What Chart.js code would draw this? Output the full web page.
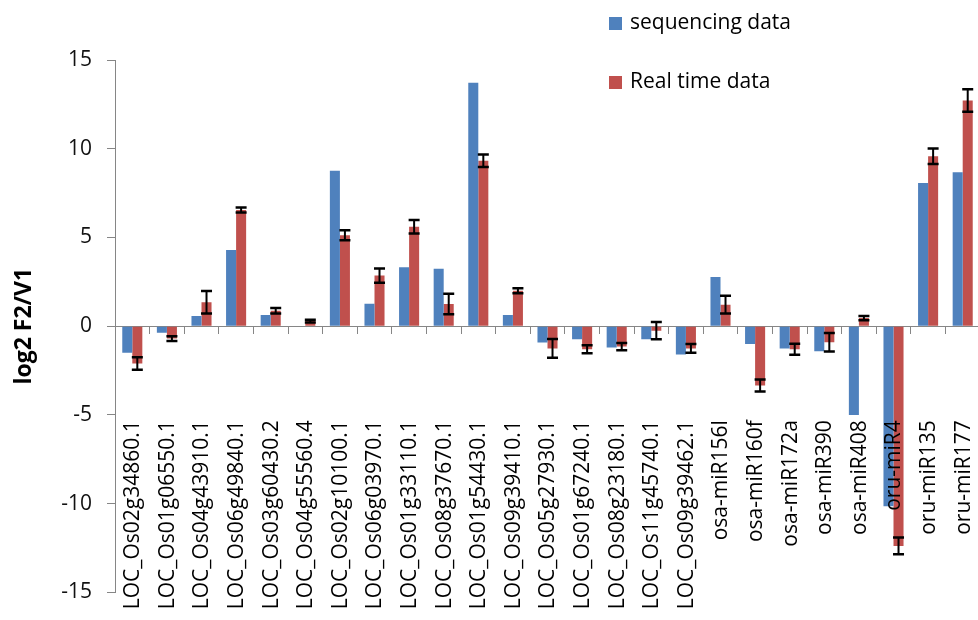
<!DOCTYPE html>
<html>
<head>
<meta charset="utf-8">
<script src="https://cdn.jsdelivr.net/npm/chart.js@4.4.0/dist/chart.umd.min.js"></script>
<style>
  html, body { margin: 0; padding: 0; background: #fff; overflow: hidden; }
  #wrap { position: relative; width: 980px; height: 620px; }
</style>
</head>
<body>
<div id="wrap"><canvas id="chart" width="980" height="620"></canvas></div>
<script>
// ============ DATA ============

const categories = [
  'LOC_Os02g34860.1', 'LOC_Os01g06550.1', 'LOC_Os04g43910.1', 'LOC_Os06g49840.1',
  'LOC_Os03g60430.2', 'LOC_Os04g55560.4', 'LOC_Os02g10100.1', 'LOC_Os06g03970.1',
  'LOC_Os01g33110.1', 'LOC_Os08g37670.1', 'LOC_Os01g54430.1', 'LOC_Os09g39410.1',
  'LOC_Os05g27930.1', 'LOC_Os01g67240.1', 'LOC_Os08g23180.1', 'LOC_Os11g45740.1',
  'LOC_Os09g39462.1', 'osa-miR156l', 'osa-miR160f', 'osa-miR172a',
  'osa-miR390', 'osa-miR408', 'oru-miR4', 'oru-miR135', 'oru-miR177'
];

const sequencingData = [
  -1.5, -0.37, 0.58, 4.3, 0.63, 0, 8.76, 1.26,
  3.32, 3.24, 13.72, 0.63, -0.92, -0.73, -1.2, -0.73,
  -1.6, 2.77, -1.01, -1.26, -1.41, -5.0, -10.14, 8.07, 8.67
];

const realTimeData = [
  -2.1, -0.7, 1.35, 6.55, 0.87, 0.29, 5.12, 2.85,
  5.6, 1.25, 9.32, 2.0, -1.25, -1.3, -1.15, -0.25,
  -1.25, 1.21, -3.34, -1.3, -0.9, 0.46, -12.38, 9.58, 12.72
];

const realTimeError = [
  0.35, 0.13, 0.63, 0.14, 0.16, 0.08, 0.28, 0.4,
  0.38, 0.58, 0.35, 0.14, 0.53, 0.22, 0.2, 0.49,
  0.25, 0.5, 0.34, 0.31, 0.52, 0.12, 0.47, 0.44, 0.63
];

const seriesNames = ['sequencing data', 'Real time data'];
const seriesColors = ['#4F81BD', '#C0504D'];

const yMin = -15;
const yMax = 15;
const yStep = 5;

const FONT = '"Open Sans", "DejaVu Sans", sans-serif';
const AXIS_GREY = '#868686';

// ============ PLUGINS ============

// error bars on the real time series
const errorBarPlugin = {
  id: 'errorBars',
  afterDatasetsDraw(chart) {
    const meta = chart.getDatasetMeta(1);
    const yScale = chart.scales.y;
    const ctx = chart.ctx;
    ctx.save();
    ctx.strokeStyle = '#000';
    meta.data.forEach((bar, i) => {
      const v = realTimeData[i];
      const e = realTimeError[i];
      const yHi = yScale.getPixelForValue(v + e);
      const yLo = yScale.getPixelForValue(v - e);
      ctx.lineWidth = 2;
      ctx.beginPath();
      ctx.moveTo(bar.x, yHi);
      ctx.lineTo(bar.x, yLo);
      ctx.stroke();
      ctx.lineWidth = 2.5;
      ctx.beginPath();
      ctx.moveTo(bar.x - 5.5, yHi);
      ctx.lineTo(bar.x + 5.5, yHi);
      ctx.moveTo(bar.x - 5.5, yLo);
      ctx.lineTo(bar.x + 5.5, yLo);
      ctx.stroke();
    });
    ctx.restore();
  }
};

// category labels hang below the zero line, rotated
const categoryLabelPlugin = {
  id: 'categoryLabels',
  afterDatasetsDraw(chart) {
    const xScale = chart.scales.x;
    const yScale = chart.scales.y;
    const ctx = chart.ctx;
    const top = yScale.getPixelForValue(0) + 94;
    ctx.save();
    ctx.font = '21px ' + FONT;
    ctx.fillStyle = '#000';
    ctx.textAlign = 'right';
    ctx.textBaseline = 'middle';
    categories.forEach((label, i) => {
      const x = xScale.getPixelForValue(i) + 1;
      ctx.save();
      ctx.translate(x, top);
      ctx.rotate(-Math.PI / 2);
      ctx.fillText(label, 0, 0);
      ctx.restore();
    });
    ctx.restore();
  }
};

// legend stacked at the top right
const legendPlugin = {
  id: 'stackedLegend',
  afterDraw(chart) {
    const ctx = chart.ctx;
    const rows = [23, 82];
    ctx.save();
    ctx.font = '21px ' + FONT;
    ctx.textAlign = 'left';
    ctx.textBaseline = 'middle';
    seriesNames.forEach((name, i) => {
      ctx.fillStyle = seriesColors[i];
      ctx.fillRect(609, rows[i] - 6, 13, 13);
      ctx.fillStyle = '#000';
      ctx.fillText(name, 630, rows[i]);
    });
    ctx.restore();
  }
};

// ============ CHART ============

const ctx = document.getElementById('chart').getContext('2d');

new Chart(ctx, {
  type: 'bar',
  data: {
    labels: categories,
    datasets: [
      {
        label: seriesNames[0],
        data: sequencingData,
        backgroundColor: seriesColors[0],
        borderWidth: 0
      },
      {
        label: seriesNames[1],
        data: realTimeData,
        backgroundColor: seriesColors[1],
        borderWidth: 0
      }
    ]
  },
  options: {
    responsive: false,
    animation: false,
    devicePixelRatio: 1,
    categoryPercentage: 0.58,
    barPercentage: 1.0,
    layout: {
      padding: { top: 60, bottom: 24, left: 0, right: 0 }
    },
    plugins: {
      legend: { display: false },
      tooltip: { enabled: false }
    },
    scales: {
      x: {
        position: { y: 0 },
        grid: {
          offset: true,
          drawOnChartArea: false,
          tickLength: 7,
          color: AXIS_GREY
        },
        border: { display: true, color: AXIS_GREY, width: 1 },
        ticks: { display: false }
      },
      y: {
        min: yMin,
        max: yMax,
        afterFit(scale) {
          scale.width = 115;
        },
        ticks: {
          stepSize: yStep,
          padding: 15,
          color: '#111',
          font: { family: FONT, size: 21 }
        },
        grid: {
          drawOnChartArea: false,
          tickLength: 8,
          color: AXIS_GREY
        },
        border: { display: true, color: AXIS_GREY, width: 1 },
        title: {
          display: true,
          text: 'log2 F2/V1',
          color: '#000',
          padding: { top: 11, bottom: 0 },
          font: { family: FONT, size: 23, weight: 'bold' }
        }
      }
    }
  },
  plugins: [errorBarPlugin, categoryLabelPlugin, legendPlugin]
});
</script>
</body>
</html>
